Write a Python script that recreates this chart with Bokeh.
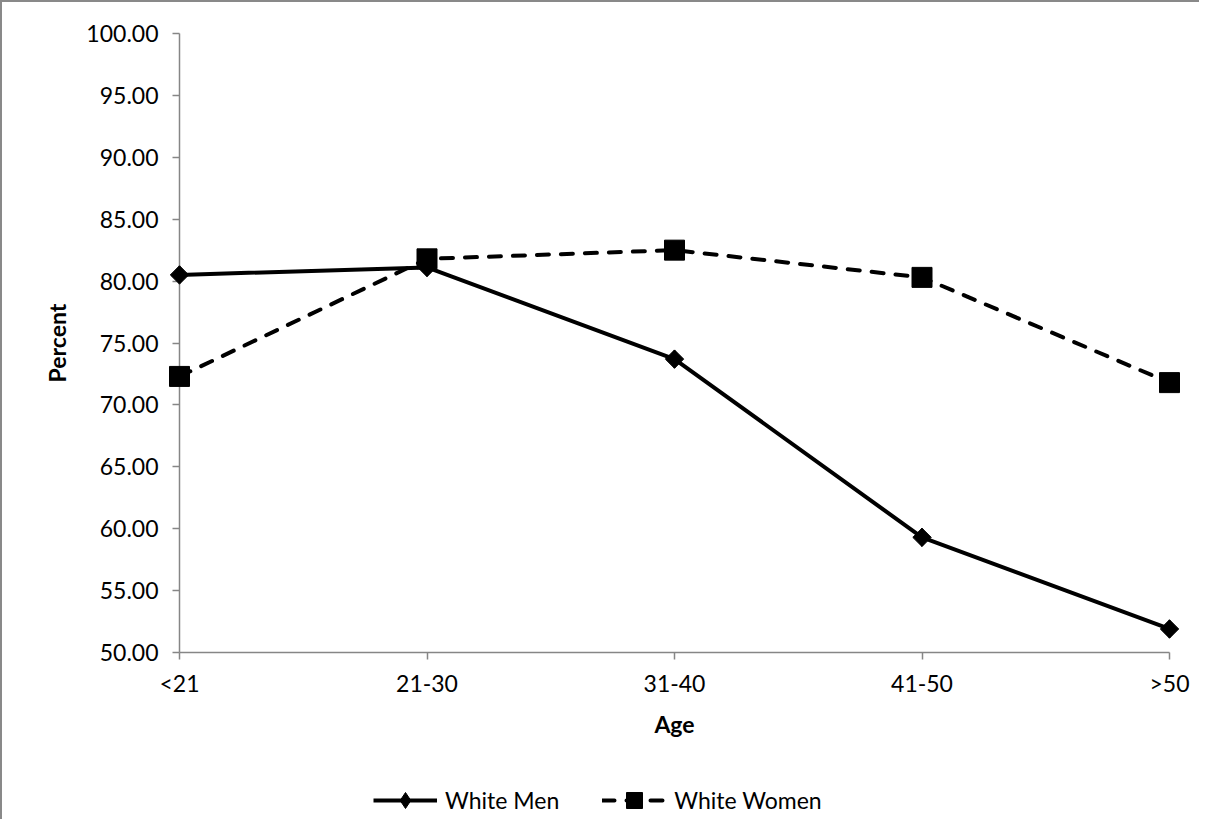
from bokeh.plotting import figure
from bokeh.models import (Range1d, FixedTicker, NumeralTickFormatter, Legend, LegendItem)
from bokeh.embed import file_html
from bokeh.resources import INLINE

# ---- data ----
categories = ["<21", "21-30", "31-40", "41-50", ">50"]
white_men = [80.5, 81.1, 73.7, 59.3, 51.9]
white_women = [72.3, 81.8, 82.5, 80.3, 71.8]
y_ticks = [50, 55, 60, 65, 70, 75, 80, 85, 90, 95, 100]
y_min, y_max = 50, 100

FONT = "Lato"
AXIS_GRAY = "#868686"

# ---- layout (pixels) ----
W, H = 1199, 819
X0_PX = 177          # pixel column of the first category (y axis)
Y100_PX = 31         # pixel row of the top of the value axis
AXIS_PX = 619        # pixel height of the value axis
CAT_PX = 247.5       # pixel distance between categories
units_per_px = (y_max - y_min) / AXIS_PX

xs = list(range(len(categories)))

p = figure(width=W, height=H, output_backend="svg", toolbar_location=None,
           x_range=Range1d(-X0_PX / CAT_PX, (W - X0_PX) / CAT_PX),
           y_range=Range1d(y_max - (H - Y100_PX) * units_per_px,
                           y_max + Y100_PX * units_per_px),
           min_border_left=0, min_border_right=0, min_border_top=0,
           min_border_bottom=0)
p.styles = {"border-left": "2px solid #898989", "border-top": "2px solid #898989"}

p.outline_line_color = None
p.grid.visible = False
p.background_fill_color = "white"
p.border_fill_color = "white"

# axes (placed inside the frame)
p.xaxis.fixed_location = y_min
p.yaxis.fixed_location = 0
p.xaxis.bounds = (0, len(categories) - 1)
p.yaxis.bounds = (y_min, y_max)
p.xaxis.ticker = FixedTicker(ticks=xs)
p.xaxis.major_label_overrides = {i: c for i, c in enumerate(categories)}
p.yaxis.ticker = FixedTicker(ticks=y_ticks)
p.yaxis.formatter = NumeralTickFormatter(format="0.00")
for ax in (p.xaxis, p.yaxis):
    ax.axis_line_color = AXIS_GRAY
    ax.axis_line_width = 1.5
    ax.major_tick_line_color = AXIS_GRAY
    ax.major_tick_line_width = 1.5
    ax.major_tick_out = 7
    ax.major_tick_in = 0
    ax.minor_tick_line_color = None
    ax.major_label_text_font = FONT
    ax.major_label_text_font_size = "23px"
    ax.major_label_text_color = "black"
    ax.axis_label_text_font = FONT
    ax.axis_label_text_font_size = "23px"
    ax.axis_label_text_font_style = "bold"
    ax.axis_label_text_color = "black"

p.xaxis.axis_label = "Age"
p.xaxis.major_label_standoff = 9
p.xaxis.axis_label_standoff = 10
p.yaxis.axis_label = "Percent"
p.yaxis.major_label_standoff = 14
p.yaxis.axis_label_standoff = 12

# series
# diamond markers (used by the legend); covered by the larger rotated squares
s1_leg = p.scatter(xs, white_men, marker="diamond", size=18,
                   fill_color="black", line_color="black")
l1 = p.line(xs, white_men, line_color="black", line_width=4, line_join="round",
            level="overlay")
s1 = p.scatter(xs, white_men, marker="square", angle=0.7853981634, size=13,
               fill_color="black", line_color="black", level="overlay")
l2 = p.line(xs, white_women, line_color="black", line_width=4, line_dash="12 12",
            line_cap="round", line_join="round", level="overlay")
s2 = p.scatter(xs, white_women, marker="square", size=20,
               fill_color="black", line_color="black", level="overlay")

legend = Legend(items=[LegendItem(label="White Men", renderers=[l1, s1_leg]),
                       LegendItem(label="White Women", renderers=[l2, s2])],
                orientation="horizontal", location=(371, 1),
                border_line_alpha=0, background_fill_alpha=0,
                padding=0, margin=0, glyph_width=64, glyph_height=40,
                label_height=40, label_standoff=8, spacing=43,
                label_text_font=FONT, label_text_font_size="23px",
                label_text_color="black")
p.add_layout(legend, "center")

open("out.html", "w").write(file_html(p, INLINE))
